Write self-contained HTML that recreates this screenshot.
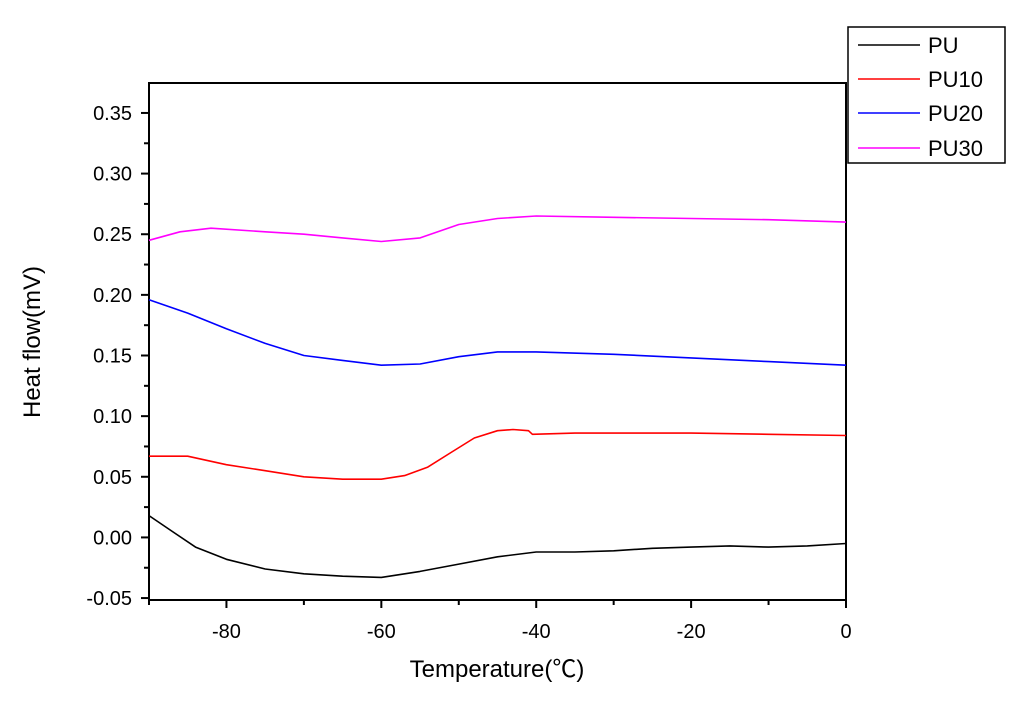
<!DOCTYPE html>
<html><head><meta charset="utf-8"><style>
body{margin:0;background:#fff;}
svg{display:block;font-family:"Liberation Sans","Noto Sans CJK SC",sans-serif;}
</style></head><body>
<svg id="chart" width="1024" height="718" viewBox="0 0 1024 718"></svg>
<script>
const xTicks=[-80,-60,-40,-20,0];
const xTickLabels=["-80","-60","-40","-20","0"];
const yTicks=[-0.05,0,0.05,0.10,0.15,0.20,0.25,0.30,0.35];
const yTickLabels=["-0.05","0.00","0.05","0.10","0.15","0.20","0.25","0.30","0.35"];
const seriesNames=["PU","PU10","PU20","PU30"];
const seriesColors=["#000000","#ff0000","#0000ff","#ff00ff"];
const puT=[-90,-87,-84,-80,-75,-70,-65,-60,-55,-50,-45,-40,-35,-30,-25,-20,-15,-10,-5,0];
const puV=[0.018,0.005,-0.008,-0.018,-0.026,-0.030,-0.032,-0.033,-0.028,-0.022,-0.016,-0.012,-0.012,-0.011,-0.009,-0.008,-0.007,-0.008,-0.007,-0.005];
const pu10T=[-90,-85,-80,-75,-70,-65,-60,-57,-54,-51,-48,-45,-43,-41,-40.5,-35,-30,-20,-10,0];
const pu10V=[0.067,0.067,0.060,0.055,0.050,0.048,0.048,0.051,0.058,0.070,0.082,0.088,0.089,0.088,0.085,0.086,0.086,0.086,0.085,0.084];
const pu20T=[-90,-85,-80,-75,-70,-65,-60,-55,-50,-45,-40,-30,-20,-10,0];
const pu20V=[0.196,0.185,0.172,0.160,0.150,0.146,0.142,0.143,0.149,0.153,0.153,0.151,0.148,0.145,0.142];
const pu30T=[-90,-86,-82,-75,-70,-65,-60,-55,-50,-45,-40,-30,-20,-10,0];
const pu30V=[0.245,0.252,0.255,0.252,0.250,0.247,0.244,0.247,0.258,0.263,0.265,0.264,0.263,0.262,0.260];

const L=149,R=846,T=83,B=600,xMin=-90,xMax=0,yMin=-0.0516,yMax=0.3747;
const xs=v=>L+(v-xMin)/(xMax-xMin)*(R-L);
const ys=v=>B-(v-yMin)/(yMax-yMin)*(B-T);
const svg=document.getElementById('chart');
const NS='http://www.w3.org/2000/svg';
function mk(tag,attrs,parent){const e=document.createElementNS(NS,tag);for(const k in attrs)e.setAttribute(k,attrs[k]);(parent||svg).appendChild(e);return e;}

const frame=mk('rect',{x:L,y:T,width:R-L,height:B-T,fill:'none',stroke:'#000','stroke-width':2});



for(let i=0;i<yTicks.length;i++){
  const y=ys(yTicks[i]);
  const t=mk('line',{x1:L-8,x2:L,y1:y,y2:y,stroke:'#000','stroke-width':2});
  
  
  const tx=mk('text',{x:L-17,y:y+7,'text-anchor':'end','font-size':20});
  tx.textContent=yTickLabels[i];
  
  
  if(i<yTicks.length-1){
    const ym=ys((yTicks[i]+yTicks[i+1])/2);
    const m=mk('line',{x1:L-5,x2:L,y1:ym,y2:ym,stroke:'#000','stroke-width':2});
    
    
  }
}
for(let i=0;i<xTicks.length;i++){
  const x=xs(xTicks[i]);
  const t=mk('line',{x1:x,x2:x,y1:B,y2:B+8,stroke:'#000','stroke-width':2});
  
  
  const tx=mk('text',{x:x,y:B+38,'text-anchor':'middle','font-size':20});
  tx.textContent=xTickLabels[i];
  
  
  const xm=xs(xTicks[i]-10);
  const m=mk('line',{x1:xm,x2:xm,y1:B,y2:B+5,stroke:'#000','stroke-width':2});
  
  
}
const xt=mk('text',{x:497,y:677,'text-anchor':'middle','font-size':24});
xt.textContent='Temperature(℃)';


const yt=mk('text',{x:0,y:0,'text-anchor':'middle','font-size':24,transform:'translate(40,342) rotate(-90)'});
yt.textContent='Heat flow(mV)';



const allT=[puT,pu10T,pu20T,pu30T],allV=[puV,pu10V,pu20V,pu30V];
for(let s=0;s<4;s++){
  const d=allT[s].map((t,i)=>(i?'L':'M')+xs(t).toFixed(1)+','+ys(allV[s][i]).toFixed(1)).join(' ');
  const p=mk('path',{d:d,fill:'none',stroke:seriesColors[s],'stroke-width':1.6,'stroke-linejoin':'round'});
  
  
}
const lg=mk('rect',{x:848,y:27,width:157,height:136,fill:'#fff',stroke:'#000','stroke-width':1.5});


const ly=[45,79,113,148];
for(let s=0;s<4;s++){
  const l=mk('line',{x1:858,x2:920,y1:ly[s],y2:ly[s],stroke:seriesColors[s],'stroke-width':1.6});
  
  
  const t=mk('text',{x:928,y:ly[s]+8,'font-size':22});
  t.textContent=seriesNames[s];
  
  
}
</script>
</body></html>
